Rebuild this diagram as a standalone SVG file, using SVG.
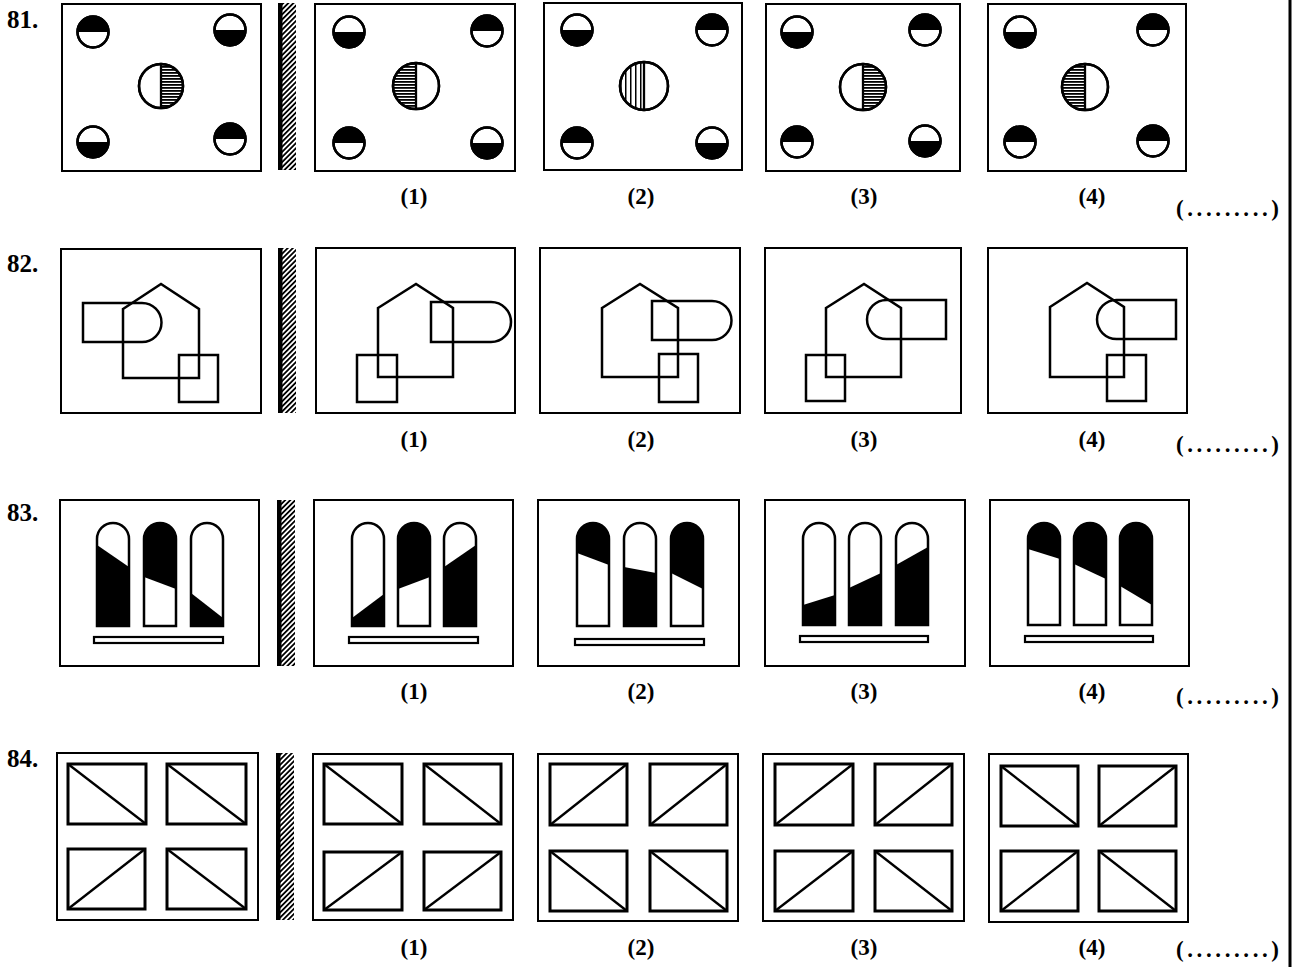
<svg xmlns="http://www.w3.org/2000/svg" width="1301" height="967" viewBox="0 0 1301 967">
<defs>
<pattern id="hh" patternUnits="userSpaceOnUse" width="4" height="3"><rect width="4" height="1.8" fill="#000"/></pattern>
<pattern id="vh" patternUnits="userSpaceOnUse" width="5" height="4"><rect width="1.5" height="4" fill="#000"/></pattern>
<pattern id="mh" patternUnits="userSpaceOnUse" width="3.6" height="3.6" patternTransform="rotate(45)"><rect width="1.8" height="3.6" fill="#000"/></pattern>
</defs>
<style>
.box{fill:#fff;stroke:#000;stroke-width:2}
.ln{fill:none;stroke:#000;stroke-width:2.5}
.cw{fill:#fff;stroke:#000;stroke-width:2.5}
.co{fill:none;stroke:#000;stroke-width:2.5}
.blk{fill:#000}
.bar{fill:#fff;stroke:#000;stroke-width:2.2}
.ir{fill:none;stroke:#000;stroke-width:3}
.dg{stroke:#000;stroke-width:2.3}
.lbl{font-family:"Liberation Serif",serif;font-size:23px;font-weight:bold;text-anchor:middle;fill:#000}
.num{font-family:"Liberation Serif",serif;font-size:25px;font-weight:bold;fill:#000}
.dots{font-family:"Liberation Serif",serif;font-size:23px;font-weight:bold;fill:#000}
</style>
<rect width="1301" height="967" fill="#fff"/>
<line x1="1290" y1="0" x2="1290" y2="967" stroke="#000" stroke-width="3"/>

<!-- row numbers -->
<text class="num" x="7" y="28">81.</text>
<text class="num" x="7" y="272">82.</text>
<text class="num" x="7" y="521">83.</text>
<text class="num" x="7" y="767">84.</text>

<!-- mirrors -->
<g id="mirrors">
<rect x="282" y="3" width="14" height="167" fill="url(#mh)"/><rect x="278" y="3" width="4.5" height="167" fill="#000"/>
<rect x="282" y="248" width="14" height="165" fill="url(#mh)"/><rect x="278" y="248" width="4.5" height="165" fill="#000"/>
<rect x="281" y="500" width="14" height="166" fill="url(#mh)"/><rect x="277" y="500" width="4.5" height="166" fill="#000"/>
<rect x="280" y="753" width="14" height="167" fill="url(#mh)"/><rect x="276" y="753" width="4.5" height="167" fill="#000"/>
</g>

<!-- ROW 81 -->
<g id="q81">
<rect class="box" x="62" y="4" width="199" height="167"/>
<circle class="cw" cx="93" cy="32" r="15.5"/><path class="blk" d="M77.5,32 A15.5,15.5 0 0 1 108.5,32 Z"/><circle class="co" cx="93" cy="32" r="15.5"/>
<circle class="cw" cx="230" cy="30" r="15.5"/><path class="blk" d="M214.5,30 A15.5,15.5 0 0 0 245.5,30 Z"/><circle class="co" cx="230" cy="30" r="15.5"/>
<circle class="cw" cx="93" cy="142" r="15.5"/><path class="blk" d="M77.5,142 A15.5,15.5 0 0 0 108.5,142 Z"/><circle class="co" cx="93" cy="142" r="15.5"/>
<circle class="cw" cx="230" cy="139" r="15.5"/><path class="blk" d="M214.5,139 A15.5,15.5 0 0 1 245.5,139 Z"/><circle class="co" cx="230" cy="139" r="15.5"/>
<circle class="cw" cx="161" cy="86" r="22"/><path fill="url(#hh)" d="M161,64 A22,22 0 0 1 161,108 Z"/><line class="dg" x1="161" y1="64" x2="161" y2="108"/><circle class="co" cx="161" cy="86" r="22"/>
</g>
<g id="o81-1">
<rect class="box" x="315" y="4" width="200" height="167"/>
<circle class="cw" cx="349" cy="32" r="15.5"/><path class="blk" d="M333.5,32 A15.5,15.5 0 0 0 364.5,32 Z"/><circle class="co" cx="349" cy="32" r="15.5"/>
<circle class="cw" cx="487" cy="31" r="15.5"/><path class="blk" d="M471.5,31 A15.5,15.5 0 0 1 502.5,31 Z"/><circle class="co" cx="487" cy="31" r="15.5"/>
<circle class="cw" cx="349" cy="143" r="15.5"/><path class="blk" d="M333.5,143 A15.5,15.5 0 0 1 364.5,143 Z"/><circle class="co" cx="349" cy="143" r="15.5"/>
<circle class="cw" cx="487" cy="143" r="15.5"/><path class="blk" d="M471.5,143 A15.5,15.5 0 0 0 502.5,143 Z"/><circle class="co" cx="487" cy="143" r="15.5"/>
<circle class="cw" cx="416" cy="86" r="23"/><path fill="url(#hh)" d="M416,63 A23,23 0 0 0 416,109 Z"/><line class="dg" x1="416" y1="63" x2="416" y2="109"/><circle class="co" cx="416" cy="86" r="23"/>
<text class="lbl" x="414" y="204">(1)</text>
</g>
<g id="o81-2">
<rect class="box" x="544" y="3" width="198" height="167"/>
<circle class="cw" cx="577" cy="30" r="15.5"/><path class="blk" d="M561.5,30 A15.5,15.5 0 0 0 592.5,30 Z"/><circle class="co" cx="577" cy="30" r="15.5"/>
<circle class="cw" cx="712" cy="30" r="15.5"/><path class="blk" d="M696.5,30 A15.5,15.5 0 0 1 727.5,30 Z"/><circle class="co" cx="712" cy="30" r="15.5"/>
<circle class="cw" cx="577" cy="143" r="15.5"/><path class="blk" d="M561.5,143 A15.5,15.5 0 0 1 592.5,143 Z"/><circle class="co" cx="577" cy="143" r="15.5"/>
<circle class="cw" cx="712" cy="143" r="15.5"/><path class="blk" d="M696.5,143 A15.5,15.5 0 0 0 727.5,143 Z"/><circle class="co" cx="712" cy="143" r="15.5"/>
<circle class="cw" cx="644" cy="86" r="24"/><path fill="url(#vh)" d="M644,62 A24,24 0 0 0 644,110 Z"/><line class="dg" x1="644" y1="62" x2="644" y2="110"/><circle class="co" cx="644" cy="86" r="24"/>
<text class="lbl" x="641" y="204">(2)</text>
</g>
<g id="o81-3">
<rect class="box" x="766" y="4" width="194" height="167"/>
<circle class="cw" cx="797" cy="32" r="15.5"/><path class="blk" d="M781.5,32 A15.5,15.5 0 0 0 812.5,32 Z"/><circle class="co" cx="797" cy="32" r="15.5"/>
<circle class="cw" cx="925" cy="30" r="15.5"/><path class="blk" d="M909.5,30 A15.5,15.5 0 0 1 940.5,30 Z"/><circle class="co" cx="925" cy="30" r="15.5"/>
<circle class="cw" cx="797" cy="142" r="15.5"/><path class="blk" d="M781.5,142 A15.5,15.5 0 0 1 812.5,142 Z"/><circle class="co" cx="797" cy="142" r="15.5"/>
<circle class="cw" cx="925" cy="141" r="15.5"/><path class="blk" d="M909.5,141 A15.5,15.5 0 0 0 940.5,141 Z"/><circle class="co" cx="925" cy="141" r="15.5"/>
<circle class="cw" cx="863" cy="87" r="23"/><path fill="url(#hh)" d="M863,64 A23,23 0 0 1 863,110 Z"/><line class="dg" x1="863" y1="64" x2="863" y2="110"/><circle class="co" cx="863" cy="87" r="23"/>
<text class="lbl" x="864" y="204">(3)</text>
</g>
<g id="o81-4">
<rect class="box" x="988" y="4" width="198" height="167"/>
<circle class="cw" cx="1020" cy="32" r="15.5"/><path class="blk" d="M1004.5,32 A15.5,15.5 0 0 0 1035.5,32 Z"/><circle class="co" cx="1020" cy="32" r="15.5"/>
<circle class="cw" cx="1153" cy="30" r="15.5"/><path class="blk" d="M1137.5,30 A15.5,15.5 0 0 1 1168.5,30 Z"/><circle class="co" cx="1153" cy="30" r="15.5"/>
<circle class="cw" cx="1020" cy="142" r="15.5"/><path class="blk" d="M1004.5,142 A15.5,15.5 0 0 1 1035.5,142 Z"/><circle class="co" cx="1020" cy="142" r="15.5"/>
<circle class="cw" cx="1153" cy="141" r="15.5"/><path class="blk" d="M1137.5,141 A15.5,15.5 0 0 1 1168.5,141 Z"/><circle class="co" cx="1153" cy="141" r="15.5"/>
<circle class="cw" cx="1085" cy="87" r="23"/><path fill="url(#hh)" d="M1085,64 A23,23 0 0 0 1085,110 Z"/><line class="dg" x1="1085" y1="64" x2="1085" y2="110"/><circle class="co" cx="1085" cy="87" r="23"/>
<text class="lbl" x="1092" y="204">(4)</text>
</g>
<text class="dots" x="1176" y="216" textLength="103" lengthAdjust="spacing">(.........)</text>

<!-- ROW 82 -->
<g id="q82">
<rect class="box" x="61" y="249" width="200" height="164"/>
<path class="ln" d="M123,309 L161,284 L199,309 V378 H123 Z"/>
<path class="ln" d="M83,303 H142 A19.5,19.5 0 0 1 142,342 H83 Z"/>
<rect class="ln" x="179" y="355" width="39" height="47"/>
</g>
<g id="o82-1">
<rect class="box" x="316" y="248" width="199" height="165"/>
<path class="ln" d="M378,308 L416,284 L453,308 V377 H378 Z"/>
<path class="ln" d="M431,302 H491 A20,20 0 0 1 491,342 H431 Z"/>
<rect class="ln" x="357" y="355" width="40" height="47"/>
<text class="lbl" x="414" y="447">(1)</text>
</g>
<g id="o82-2">
<rect class="box" x="540" y="248" width="200" height="165"/>
<path class="ln" d="M602,308 L640,284 L678,308 V377 H602 Z"/>
<path class="ln" d="M652,301 H712 A19.5,19.5 0 0 1 712,340 H652 Z"/>
<rect class="ln" x="659" y="354" width="39" height="48"/>
<text class="lbl" x="641" y="447">(2)</text>
</g>
<g id="o82-3">
<rect class="box" x="765" y="248" width="196" height="165"/>
<path class="ln" d="M826,308 L864,284 L901,308 V377 H826 Z"/>
<path class="ln" d="M946,300 H886.5 A19.5,19.5 0 0 0 886.5,339 H946 Z"/>
<rect class="ln" x="806" y="355" width="39" height="46"/>
<text class="lbl" x="864" y="447">(3)</text>
</g>
<g id="o82-4">
<rect class="box" x="988" y="248" width="199" height="165"/>
<path class="ln" d="M1050,307 L1087,283 L1124,307 V377 H1050 Z"/>
<path class="ln" d="M1176,300 H1116.5 A19.5,19.5 0 0 0 1116.5,339 H1176 Z"/>
<rect class="ln" x="1107" y="355" width="39" height="46"/>
<text class="lbl" x="1092" y="447">(4)</text>
</g>
<text class="dots" x="1176" y="452" textLength="103" lengthAdjust="spacing">(.........)</text>

<!-- ROW 83 -->
<g id="q83">
<rect class="box" x="60" y="500" width="199" height="166"/>
<path class="blk" d="M97,545 L129,567 V626 H97 Z"/><path class="co" d="M97,626 V539 A16,16 0 0 1 129,539 V626 Z"/>
<path class="blk" d="M144,577 L176,589 V539 A16,16 0 0 0 144,539 Z"/><path class="co" d="M144,626 V539 A16,16 0 0 1 176,539 V626 Z"/>
<path class="blk" d="M191,593 L223,618 V626 H191 Z"/><path class="co" d="M191,626 V539 A16,16 0 0 1 223,539 V626 Z"/>
<rect class="bar" x="94" y="637" width="129" height="6"/>
</g>
<g id="o83-1">
<rect class="box" x="314" y="500" width="199" height="166"/>
<path class="blk" d="M352,618 L384,594 V626 H352 Z"/><path class="co" d="M352,626 V539 A16,16 0 0 1 384,539 V626 Z"/>
<path class="blk" d="M398,589 L430,577 V539 A16,16 0 0 0 398,539 Z"/><path class="co" d="M398,626 V539 A16,16 0 0 1 430,539 V626 Z"/>
<path class="blk" d="M444,567 L476,545 V626 H444 Z"/><path class="co" d="M444,626 V539 A16,16 0 0 1 476,539 V626 Z"/>
<rect class="bar" x="349" y="637" width="129" height="6"/>
<text class="lbl" x="414" y="699">(1)</text>
</g>
<g id="o83-2">
<rect class="box" x="538" y="500" width="201" height="166"/>
<path class="blk" d="M577,553 L609,565 V539 A16,16 0 0 0 577,539 Z"/><path class="co" d="M577,626 V539 A16,16 0 0 1 609,539 V626 Z"/>
<path class="blk" d="M624,567 L656,573 V626 H624 Z"/><path class="co" d="M624,626 V539 A16,16 0 0 1 656,539 V626 Z"/>
<path class="blk" d="M671,573 L703,589 V539 A16,16 0 0 0 671,539 Z"/><path class="co" d="M671,626 V539 A16,16 0 0 1 703,539 V626 Z"/>
<rect class="bar" x="575" y="639" width="129" height="6"/>
<text class="lbl" x="641" y="699">(2)</text>
</g>
<g id="o83-3">
<rect class="box" x="765" y="500" width="200" height="166"/>
<path class="blk" d="M803,605 L835,595 V625 H803 Z"/><path class="co" d="M803,625 V539 A16,16 0 0 1 835,539 V625 Z"/>
<path class="blk" d="M849,588 L881,573 V625 H849 Z"/><path class="co" d="M849,625 V539 A16,16 0 0 1 881,539 V625 Z"/>
<path class="blk" d="M896,565 L928,547 V625 H896 Z"/><path class="co" d="M896,625 V539 A16,16 0 0 1 928,539 V625 Z"/>
<rect class="bar" x="800" y="636" width="128" height="6"/>
<text class="lbl" x="864" y="699">(3)</text>
</g>
<g id="o83-4">
<rect class="box" x="990" y="500" width="199" height="166"/>
<path class="blk" d="M1028,549 L1060,559 V539 A16,16 0 0 0 1028,539 Z"/><path class="co" d="M1028,625 V539 A16,16 0 0 1 1060,539 V625 Z"/>
<path class="blk" d="M1074,564 L1106,579 V539 A16,16 0 0 0 1074,539 Z"/><path class="co" d="M1074,625 V539 A16,16 0 0 1 1106,539 V625 Z"/>
<path class="blk" d="M1120,586 L1152,605 V539 A16,16 0 0 0 1120,539 Z"/><path class="co" d="M1120,625 V539 A16,16 0 0 1 1152,539 V625 Z"/>
<rect class="bar" x="1025" y="636" width="128" height="6"/>
<text class="lbl" x="1092" y="699">(4)</text>
</g>
<text class="dots" x="1176" y="704" textLength="103" lengthAdjust="spacing">(.........)</text>

<!-- ROW 84 -->
<g id="q84">
<rect class="box" x="57" y="753" width="201" height="167"/>
<rect class="ir" x="68" y="764" width="78" height="60"/><line class="dg" x1="68" y1="764" x2="146" y2="824"/>
<rect class="ir" x="167" y="764" width="79" height="60"/><line class="dg" x1="167" y1="764" x2="246" y2="824"/>
<rect class="ir" x="68" y="849" width="77" height="60"/><line class="dg" x1="68" y1="909" x2="145" y2="849"/>
<rect class="ir" x="167" y="849" width="79" height="60"/><line class="dg" x1="167" y1="849" x2="246" y2="909"/>
</g>
<g id="o84-1">
<rect class="box" x="313" y="754" width="200" height="166"/>
<rect class="ir" x="324" y="764" width="78" height="60"/><line class="dg" x1="324" y1="764" x2="402" y2="824"/>
<rect class="ir" x="424" y="764" width="77" height="60"/><line class="dg" x1="424" y1="764" x2="501" y2="824"/>
<rect class="ir" x="324" y="852" width="78" height="58"/><line class="dg" x1="324" y1="910" x2="402" y2="852"/>
<rect class="ir" x="424" y="852" width="77" height="58"/><line class="dg" x1="424" y1="910" x2="501" y2="852"/>
<text class="lbl" x="414" y="955">(1)</text>
</g>
<g id="o84-2">
<rect class="box" x="538" y="754" width="200" height="167"/>
<rect class="ir" x="550" y="764" width="77" height="61"/><line class="dg" x1="550" y1="825" x2="627" y2="764"/>
<rect class="ir" x="650" y="764" width="77" height="61"/><line class="dg" x1="650" y1="825" x2="727" y2="764"/>
<rect class="ir" x="550" y="851" width="77" height="60"/><line class="dg" x1="550" y1="851" x2="627" y2="911"/>
<rect class="ir" x="650" y="851" width="77" height="60"/><line class="dg" x1="650" y1="851" x2="727" y2="911"/>
<text class="lbl" x="641" y="955">(2)</text>
</g>
<g id="o84-3">
<rect class="box" x="763" y="754" width="201" height="167"/>
<rect class="ir" x="775" y="764" width="78" height="61"/><line class="dg" x1="775" y1="825" x2="853" y2="764"/>
<rect class="ir" x="875" y="764" width="77" height="61"/><line class="dg" x1="875" y1="825" x2="952" y2="764"/>
<rect class="ir" x="775" y="851" width="78" height="60"/><line class="dg" x1="775" y1="911" x2="853" y2="851"/>
<rect class="ir" x="875" y="851" width="77" height="60"/><line class="dg" x1="875" y1="851" x2="952" y2="911"/>
<text class="lbl" x="864" y="955">(3)</text>
</g>
<g id="o84-4">
<rect class="box" x="989" y="754" width="199" height="168"/>
<rect class="ir" x="1001" y="766" width="77" height="60"/><line class="dg" x1="1001" y1="766" x2="1078" y2="826"/>
<rect class="ir" x="1099" y="766" width="77" height="60"/><line class="dg" x1="1099" y1="826" x2="1176" y2="766"/>
<rect class="ir" x="1001" y="851" width="77" height="60"/><line class="dg" x1="1001" y1="911" x2="1078" y2="851"/>
<rect class="ir" x="1099" y="851" width="77" height="60"/><line class="dg" x1="1099" y1="851" x2="1176" y2="911"/>
<text class="lbl" x="1092" y="955">(4)</text>
</g>
<text class="dots" x="1176" y="957" textLength="103" lengthAdjust="spacing">(.........)</text>
</svg>
